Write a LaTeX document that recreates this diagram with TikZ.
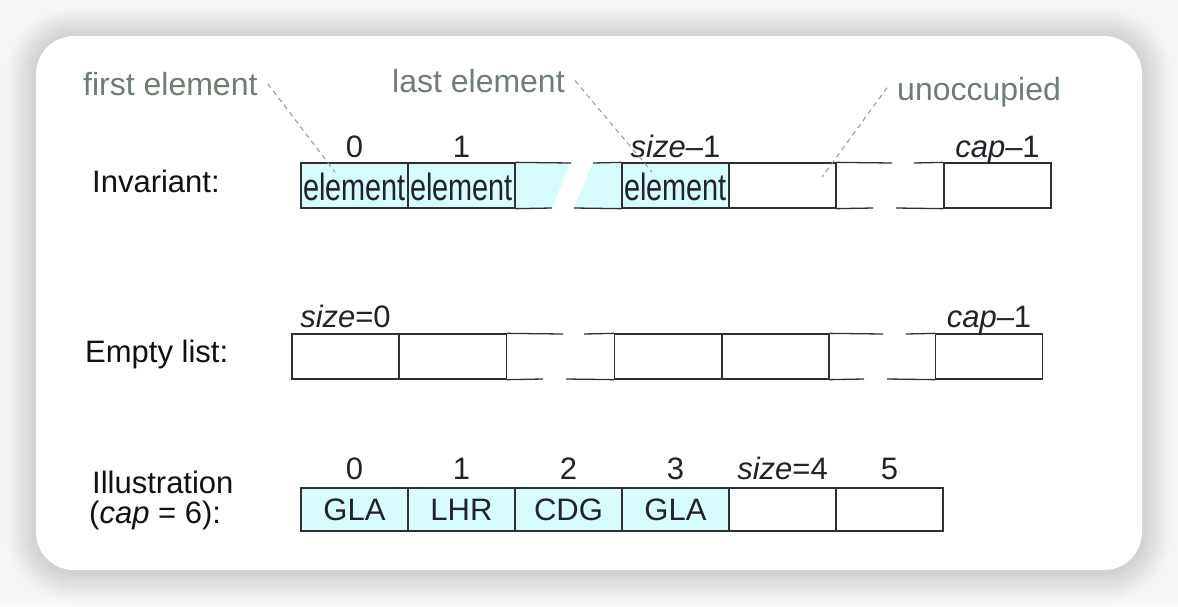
\documentclass[tikz,border=0pt]{standalone}
\usepackage{fontspec}
\setmainfont{Liberation Sans}
\newfontfamily\condfont[FakeStretch=0.76]{Liberation Sans}
\definecolor{cellfill}{RGB}{214,252,252}
\definecolor{linec}{RGB}{48,48,52}
\definecolor{txt}{RGB}{34,34,44}
\definecolor{labc}{RGB}{17,17,17}
\definecolor{note}{RGB}{110,126,114}
\definecolor{leadc}{RGB}{150,150,150}
\definecolor{bgc}{RGB}{246,246,246}
\begin{document}
\begin{tikzpicture}[x=1pt,y=-1pt,
  cellbox/.style={draw=linec, line width=1.3pt, minimum width=107pt, minimum height=45pt,
    inner sep=0pt, text=txt, font=\fontsize{31}{36}\selectfont},
  inv/.style={cellbox, text height=30pt, text depth=0pt, font=\condfont\fontsize{38}{40}\selectfont},
  ill/.style={cellbox, minimum height=43pt, text height=22pt, text depth=1pt},
  full/.style={fill=cellfill},
  idx/.style={anchor=base, inner sep=0pt, text=txt, font=\fontsize{31}{36}\selectfont},
  rowlab/.style={anchor=base west, inner sep=0pt, text=labc, font=\fontsize{31}{36}\selectfont},
  notelab/.style={anchor=base west, inner sep=0pt, text=note, font=\fontsize{32}{36}\selectfont},
  lead/.style={draw=leadc, line width=1pt, dash pattern=on 5pt off 4pt},
  brk/.style={draw=linec, line width=1.3pt},
]
% background and card with soft shadow
\fill[bgc] (0,0) rectangle (1178,606);
\foreach \i in {1,...,12}{
  \fill[black, opacity=0.011, rounded corners={38pt+\i*2.4pt}]
    ({36-\i*2.4},{37-\i*2.4}) rectangle ({1142+\i*2.4},{572+\i*2.4});
}
\fill[white, rounded corners=38pt] (36,36) rectangle (1142,570);
\useasboundingbox (0,0) rectangle (1178,606);

% ---------- Invariant row ----------
\node[rowlab] (linv) at (92,192) {Invariant:};
\fill[cellfill] (515,163) -- (570,163) -- (552,208) -- (515,208) -- cycle;
\fill[cellfill] (593,163) -- (622,163) -- (622,208) -- (574,208) -- cycle;
\node[inv, full] (a0) at (354.5,185.5) {element};
\node[inv, full] (a1) at (461.5,185.5) {element};
\node[inv, full] (a3) at (675.5,185.5) {element};
\node[inv] (a4) at (782.5,185.5) {};
\node[inv] (a6) at (997.5,185.5) {};
\draw[brk] (a1.north east) -- (571,163);
\draw[brk] (a1.south east) -- (552,208);
\draw[brk] (593,163) -- (a3.north west);
\draw[brk] (574,208) -- (a3.south west);
\draw[brk] (a4.north east) -- (892,163);
\draw[brk] (a4.south east) -- (873,208);
\draw[brk] (914,163) -- (a6.north west);
\draw[brk] (896,208) -- (a6.south west);
\node[idx] (ia0) at (354.5,157) {0};
\node[idx] (ia1) at (461.5,157) {1};
\node[idx] (ia3) at (675.5,157) {\textit{size}–1};
\node[idx] (ia6) at (997.5,157) {\textit{cap}–1};

% notes
\node[notelab] (first) at (83,95) {first element};
\node[notelab] (last) at (392,92) {last element};
\node[notelab] (unocc) at (897,100) {unoccupied};
\coordinate (p1) at (335,172);
\coordinate (p2) at (652,172);
\coordinate (p3) at (822,177);
\draw[lead] ([xshift=10pt]first.east) -- (p1);
\draw[lead] ([xshift=10pt]last.east) -- (p2);
\draw[lead] ([xshift=-10pt,yshift=4pt]unocc.west) -- (p3);

% ---------- Empty list row ----------
\node[rowlab] (lemp) at (85,362) {Empty list:};
\node[cellbox] (b0) at (345.5,356.5) {};
\node[cellbox] (b1) at (453,356.5) {};
\node[cellbox] (b3) at (668,356.5) {};
\node[cellbox] (b4) at (775.5,356.5) {};
\node[cellbox] (b6) at (989,356.5) {};
\draw[brk] (b1.north east) -- (563,334);
\draw[brk] (b1.south east) -- (543,379);
\draw[brk] (584,334) -- (b3.north west);
\draw[brk] (566,379) -- (b3.south west);
\draw[brk] (b4.north east) -- (883,334);
\draw[brk] (b4.south east) -- (864,379);
\draw[brk] (906,334) -- (b6.north west);
\draw[brk] (887,379) -- (b6.south west);
\node[idx] (ib0) at (345.5,327) {\textit{size}=0};
\node[idx] (ib6) at (989,327) {\textit{cap}–1};

% ---------- Illustration row ----------
\node[rowlab] (lill1) at (92,493) {Illustration};
\node[rowlab] (lill2) at (89,523) {(\textit{cap} = 6):};
\node[ill, full] (c0) at (354.5,509.5) {GLA};
\node[ill, full] (c1) at (461.5,509.5) {LHR};
\node[ill, full] (c2) at (568.5,509.5) {CDG};
\node[ill, full] (c3) at (675.5,509.5) {GLA};
\node[ill] (c4) at (782.5,509.5) {};
\node[ill] (c5) at (889.5,509.5) {};
\node[idx] (ic0) at (354.5,479) {0};
\node[idx] (ic1) at (461.5,479) {1};
\node[idx] (ic2) at (568.5,479) {2};
\node[idx] (ic3) at (675.5,479) {3};
\node[idx] (ic4) at (782.5,479) {\textit{size}=4};
\node[idx] (ic5) at (889.5,479) {5};
\end{tikzpicture}
\end{document}
